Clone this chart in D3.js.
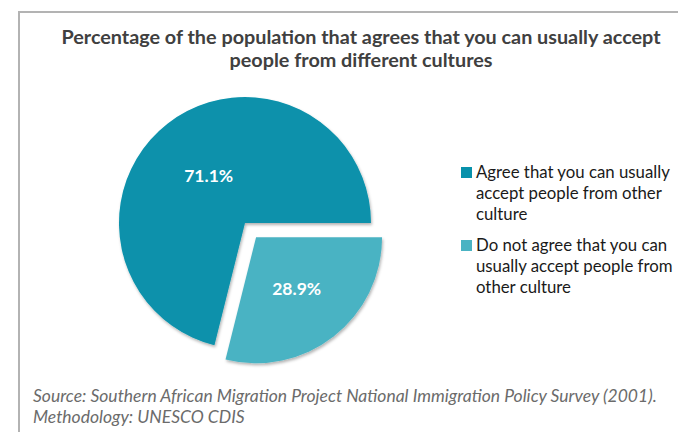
<!DOCTYPE html>
<html>
<head>
<meta charset="utf-8">
<script src="https://cdn.jsdelivr.net/npm/d3@7"></script>
<style>
html,body{margin:0;padding:0;background:#fff;}
svg{display:block;}
</style>
</head>
<body>
<script>
const categories = ["Agree that you can usually accept people from other culture",
                    "Do not agree that you can usually accept people from other culture"];
const values = [71.1, 28.9];
const valueLabels = ["71.1%", "28.9%"];
const legendLines = [["Agree that you can usually", "accept people from other", "culture"],
                     ["Do not agree that you can", "usually accept people from", "other culture"]];
const titleLines = ["Percentage of the population that agrees that you can usually accept",
                    "people from different cultures"];
const sourceLines = ["Source: Southern African Migration Project National Immigration Policy Survey (2001).",
                     "Methodology: UNESCO CDIS"];
const colors = ["#0891ab", "#4ab3c3"];

const W = 678, H = 432;
const svg = d3.select("body").append("svg").attr("width", W).attr("height", H);
const font = "Lato, 'Open Sans', sans-serif";

const defs = svg.append("defs");
const f = defs.append("filter").attr("id","sh").attr("x","-20%").attr("y","-20%").attr("width","140%").attr("height","140%");
f.append("feDropShadow").attr("dx",1).attr("dy",2).attr("stdDeviation",1.8).attr("flood-color","#000").attr("flood-opacity",0.3);

// frame
svg.append("path").attr("d", `M19,${H} L19,12 L${W},12`).attr("fill","none").attr("stroke","#b3b3b3").attr("stroke-width",2);

// title
svg.append("g").selectAll("text").data(titleLines).join("text")
  .attr("x", 361).attr("y", (d,i)=>44 + i*23)
  .attr("text-anchor","middle").attr("font-family",font).attr("font-weight","bold")
  .attr("font-size",19.8).attr("fill","#404040").text(d=>d);

// pie
const cx = 245, cy = 223, r = 126;
const startAngle = 90 * Math.PI/180;
// order: small slice (index 1) from 3 o'clock clockwise, big slice follows
const order = [1, 0];
const arcs = d3.pie().sort(null).value(i=>values[i]).startAngle(startAngle).endAngle(startAngle + 2*Math.PI)(order);
const arc = d3.arc().innerRadius(0).outerRadius(r);
const explode = 18;
const labelR = {0: 59, 1: 66};
const g = svg.append("g").attr("transform", `translate(${cx},${cy})`);
const slices = g.selectAll("g.s").data(arcs).join("g").attr("class","s")
  .attr("transform", d => {
    if (d.data === 1) {
      const m = (d.startAngle + d.endAngle)/2;
      return `translate(${Math.sin(m)*explode},${-Math.cos(m)*explode})`;
    }
    return null;
  });
slices.append("path").attr("d", arc).attr("fill", d=>colors[d.data]).attr("filter","url(#sh)");

slices.append("text")
  .attr("transform", d => {
    const c = d3.arc().innerRadius(labelR[d.data]).outerRadius(labelR[d.data]).centroid(d);
    return `translate(${c[0]},${c[1] + 6})`;
  })
  .attr("text-anchor","middle").attr("font-family",font).attr("font-weight","bold")
  .attr("font-size",17.5).attr("fill","#fff").text(d=>valueLabels[d.data]);

// legend
const leg = svg.append("g");
const legTop = [167, 240];
categories.forEach((c,i)=>{
  leg.append("rect").attr("x",461).attr("y",legTop[i]).attr("width",11).attr("height",11).attr("fill",colors[i]);
  leg.append("text").attr("font-family",font).attr("font-size",16.8).attr("fill","#1a1a1a")
    .selectAll("tspan").data(legendLines[i]).join("tspan")
    .attr("x",476).attr("y",(d,j)=>legTop[i]+11 + j*21).text(d=>d);
});

// source
svg.append("g").selectAll("text").data(sourceLines).join("text")
  .attr("x",33).attr("y",(d,i)=>402 + i*21)
  .attr("font-family",font).attr("font-style","italic").attr("font-size",17.5)
  .attr("fill","#6b6b6b").text(d=>d);
</script>
</body>
</html>
